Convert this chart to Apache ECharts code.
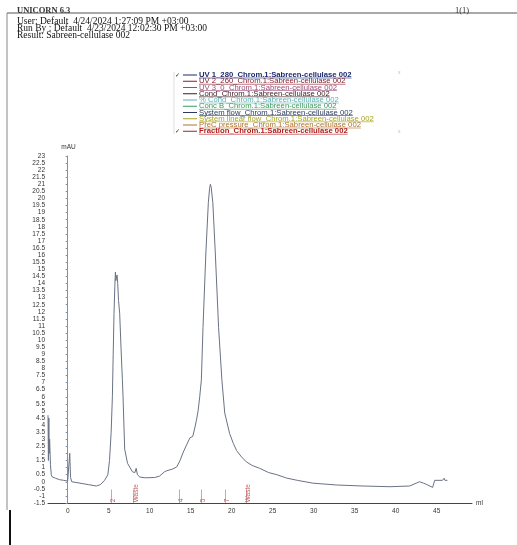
<!DOCTYPE html>
<html><head><meta charset="utf-8">
<script src="https://cdn.jsdelivr.net/npm/echarts@6/dist/echarts.min.js"></script>
<style>html,body{margin:0;padding:0;background:#fff}#c{width:517px;height:545px}</style>
</head><body><div id="c"></div>
<script>
// ---- data ----
const volumeMl = [-2.4,-2.35,-2.3,-2.25,-2.2,-2.1,-2.0,-1.9,-1.5,-1.0,-0.5,0.0,0.15,0.25,0.35,0.5,1.5,2.5,3.5,4.0,4.5,4.9,5.1,5.3,5.45,5.55,5.65,5.75,5.82,5.88,5.95,6.02,6.1,6.2,6.34,6.5,6.67,6.75,6.95,7.3,7.9,8.2,8.35,8.5,8.8,9.5,10.6,11.2,11.8,12.1,12.8,13.3,13.7,14.1,14.5,14.9,15.25,15.5,15.7,15.9,16.1,16.3,16.5,16.85,17.15,17.3,17.4,17.5,17.7,18.0,18.4,18.8,19.15,19.75,20.2,20.6,21.2,21.8,22.5,23.4,24.5,25.5,26.7,28,29.9,32.8,36,39.3,41.7,42.5,42.9,43.4,43.8,44.5,44.7,44.75,45.7,45.9,46.0,46.3];
const uvMAU = [4.7,1.5,4.5,2.0,3.0,1.2,0.5,0.35,0.25,0.15,0.1,0.05,0.1,2.0,0.3,0.0,-0.1,-0.2,-0.3,-0.2,0.1,0.5,1.5,3.5,6.0,9.0,11.9,13.8,14.8,14.2,14.3,14.6,14.0,12.8,11.9,9.5,7.2,6.0,2.3,1.3,0.7,0.65,0.95,0.5,0.33,0.28,0.3,0.4,0.7,0.78,0.9,1.05,1.5,2.1,2.6,3.1,3.2,3.8,4.35,5.0,6.0,7.2,10.9,16.15,19.7,20.7,21.0,20.8,19.7,16.15,10.9,7.2,4.85,3.4,2.7,2.2,1.75,1.4,1.15,0.95,0.65,0.5,0.26,0.1,-0.1,-0.23,-0.3,-0.35,-0.3,-0.1,0.0,-0.1,-0.2,-0.4,-0.4,0.1,0.1,0.25,0.1,0.1];
const fractionMl = [5.6, 8.3, 13.9, 16.5, 19.5, 22.0];
const fractionLabels = ['2', 'Waste', '4', '5', '7', 'Waste'];
const xTickValues = [0,5,10,15,20,25,30,35,40,45];
const headerLines = ['User: Default  4/24/2024 1:27:09 PM +03:00','Run By : Default  4/23/2024 12:02:30 PM +03:00','Result: Sabreen-cellulase 002'];
const legendNames = ['UV 1_280_Chrom.1:Sabreen-cellulase 002','UV 2_260_Chrom.1:Sabreen-cellulase 002','UV 3_0_Chrom.1:Sabreen-cellulase 002','Cond_Chrom.1:Sabreen-cellulase 002','% Cond_Chrom.1:Sabreen-cellulase 002','Conc B_Chrom.1:Sabreen-cellulase 002','System flow_Chrom.1:Sabreen-cellulase 002','System linear flow_Chrom.1:Sabreen-cellulase 002','PreC pressure_Chrom.1:Sabreen-cellulase 002','Fraction_Chrom.1:Sabreen-cellulase 002'];
const legendColors = ['#1c2a6e','#8c1c2c','#9a4a78','#3a1c1c','#5ab0b4','#3a9a5c','#2c3a5c','#a8a424','#b0702c','#b01c1c'];
const legendChecked = [true,false,false,false,false,false,false,false,false,true];

// ---- build ----
const chart = echarts.init(document.getElementById('c'), null, {renderer:'canvas'});
const ctx = document.createElement('canvas').getContext('2d');
function measure(t, font){ ctx.font = font; return ctx.measureText(t).width; }

const graphics = [];
// frame
graphics.push({type:'line', shape:{x1:7,y1:13,x2:517,y2:13}, style:{stroke:'#555',lineWidth:1}});
graphics.push({type:'line', shape:{x1:7,y1:13,x2:7,y2:510}, style:{stroke:'#888',lineWidth:1}});
graphics.push({type:'line', shape:{x1:10,y1:510,x2:10,y2:545}, style:{stroke:'#111',lineWidth:2}});
graphics.push({type:'text', x:17, y:11, style:{text:'UNICORN 6.3', font:'bold 8.5px "Liberation Serif"', fill:'#333', verticalAlign:'middle'}});
graphics.push({type:'text', x:455, y:11, style:{text:'1(1)', font:'8.5px "Liberation Serif"', fill:'#333', verticalAlign:'middle'}});
headerLines.forEach((t,i)=>{
  graphics.push({type:'text', x:17, y:21.5+i*7.2, style:{text:t, font:'9.5px "Liberation Serif"', fill:'#111', verticalAlign:'middle'}});
});
// legend panel
graphics.push({type:'line', shape:{x1:174,y1:72,x2:174,y2:134}, style:{stroke:'#ddd',lineWidth:1}});
graphics.push({type:'text', x:398, y:73, style:{text:'x', font:'5px "Liberation Sans"', fill:'#bbb', verticalAlign:'middle'}});
graphics.push({type:'text', x:398, y:132, style:{text:'x', font:'5px "Liberation Sans"', fill:'#bbb', verticalAlign:'middle'}});
legendNames.forEach((n,i)=>{
  const y = 75 + i*6.25;
  const bold = (i===0 || i===9);
  const font = (bold?'bold ':'') + '7.7px "Liberation Sans"';
  if (legendChecked[i]) graphics.push({type:'text', x:175, y:y, style:{text:'✓', font:'6px "DejaVu Sans"', fill:'#222', verticalAlign:'middle'}});
  graphics.push({type:'line', shape:{x1:183,y1:y,x2:197,y2:y}, style:{stroke:legendColors[i],lineWidth:1}});
  graphics.push({type:'text', x:199, y:y, style:{text:n, font:font, fill:legendColors[i], verticalAlign:'middle'}});
  const w = measure(n, font);
  graphics.push({type:'line', shape:{x1:199,y1:y+3,x2:199+w,y2:y+3}, style:{stroke:legendColors[i],lineWidth:0.6}});
});

const fracData = fractionMl.map((x,i)=>({value:[x,-1.45], label:{formatter:fractionLabels[i]}}));
const fracLines = fractionMl.map(x=>[{coord:[x-0.25,-1.5]},{coord:[x-0.25,-0.55]}]);

chart.setOption({
  animation:false,
  backgroundColor:'#fff',
  grid:{left:48, right:45, top:156, bottom:42},
  graphic: graphics,
  xAxis:{type:'value', min:-2.4, max:49.3, name:'ml', nameLocation:'end', nameGap:4,
    nameTextStyle:{fontSize:6.5, color:'#333', fontFamily:'Liberation Sans', verticalAlign:'middle'},
    axisLine:{show:true, onZero:false, lineStyle:{color:'#444', width:1}},
    axisTick:{show:false},
    axisLabel:{customValues:xTickValues, fontSize:6.5, color:'#333', fontFamily:'Liberation Sans', margin:5},
    splitLine:{show:false}},
  yAxis:{type:'value', min:-1.5, max:23, interval:0.5, name:'mAU', nameLocation:'end', nameGap:5,
    nameTextStyle:{fontSize:6.5, color:'#333', fontFamily:'Liberation Sans', align:'right', padding:[0,-8,0,0]},
    axisLine:{show:true, lineStyle:{color:'#8090b0', width:1}},
    axisTick:{show:true, length:2, lineStyle:{color:'#8090b0'}},
    axisLabel:{fontSize:6.5, color:'#333', fontFamily:'Liberation Sans', margin:3},
    splitLine:{show:false}},
  series:[
    {type:'line', data: volumeMl.map((x,i)=>[x, uvMAU[i]]), showSymbol:false, symbol:'none',
     lineStyle:{color:'#6a7284', width:1}, z:3},
    {type:'scatter', data: fracData, symbolSize:0, z:4,
     label:{show:true, position:'inside', rotate:90, align:'left', verticalAlign:'middle',
            fontSize:6.5, color:'#b03030', fontFamily:'Liberation Sans'},
     markLine:{silent:true, symbol:['none','none'], label:{show:false},
            lineStyle:{color:'#c06060', width:0.6, type:'solid'}, data: fracLines}}
  ]
});
</script></body></html>
